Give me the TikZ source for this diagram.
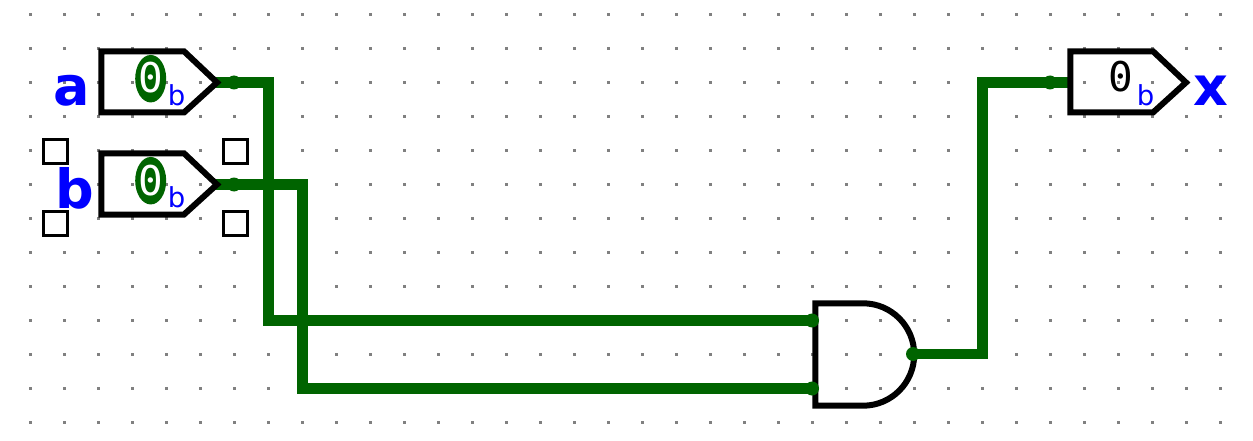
\documentclass[tikz,border=0pt]{standalone}
\usepackage{fontspec}
\setmainfont{DejaVu Sans}
\newfontfamily\monofnt{DejaVu Sans Mono}
\definecolor{wiregreen}{RGB}{0,100,0}
\definecolor{griddot}{RGB}{128,128,128}
\definecolor{labelblue}{RGB}{0,0,255}
\tikzset{
  griddotmark/.style={fill=griddot,draw=none,minimum size=3.2pt,inner sep=0pt,rectangle},
  partline/.style={draw=black,line width=6pt,line join=miter,miter limit=10},
  wire/.style={draw=wiregreen,line width=10.6pt,line join=miter,line cap=butt},
  wiredot/.style={circle,fill=wiregreen,draw=none,minimum size=14pt,inner sep=0pt},
  handlebox/.style={rectangle,draw=black,line width=3pt,fill=white,minimum size=24pt,inner sep=0pt},
  pinname/.style={text=labelblue,font=\fontsize{54}{54}\selectfont\bfseries,anchor=base,inner sep=0pt},
  radix/.style={text=labelblue,font=\fontsize{27.5}{27.5}\selectfont,anchor=base,inner sep=0pt},
  pinvalue/.style={font=\fontsize{41}{41}\selectfont\monofnt,anchor=base,inner sep=0pt},
  highlight/.style={ellipse,fill=wiregreen,draw=none,minimum width=31pt,minimum height=47.5pt,inner sep=0pt},
}
\usetikzlibrary{shapes.geometric}
\begin{document}
\begin{tikzpicture}[x=1pt,y=-1pt]
\useasboundingbox (0,0) rectangle (1253,441);
\fill[white] (0,0) rectangle (1253,441);
% grid
\foreach \i in {0,...,35}{\foreach \j in {0,...,12}{
  \node[griddotmark] (g\i-\j) at ({30.5+34*\i},{14.5+34*\j}) {};
}}
% coordinates
\coordinate (aout) at (234,82.5);
\coordinate (bout) at (234,184.5);
\coordinate (ain) at (812,320.5);
\coordinate (bin) at (812,388.5);
\coordinate (gout) at (913,354);
\coordinate (xin) at (1050,82.5);
\coordinate (astart) at (215,82.5);
\coordinate (bstart) at (215,184.5);
\coordinate (aturn) at (268.5,82.5);
\coordinate (bturn) at (302.5,184.5);
\coordinate (oturn) at (982.5,354);
\coordinate (xend) at (1068,82.5);
% gate
\draw[partline] (863,303.3) -- (815.3,303.3) -- (815.3,405.7) -- (863,405.7) arc[start angle=90,end angle=-90,radius=51.2pt,x radius=51.2pt,y radius=-51.2pt] -- cycle;
% wires
\draw[wire] (astart) -- (aturn) -- (aturn |- ain) -- (ain);
\draw[wire] (bstart) -- (bturn) -- (bturn |- bin) -- (bin);
\draw[wire] (gout) -- (oturn) -- (oturn |- xin) -- (xend);
\node[wiredot] (adot) at (aout) {};
\node[wiredot] (bdot) at (bout) {};
\node[wiredot] (adotin) at (ain) {};
\node[wiredot] (bdotin) at (bin) {};
\node[wiredot] (gdot) at (gout) {};
\node[wiredot] (xdot) at (xin) {};
% pins
\draw[partline] (101.3,51.3) -- (184,51.3) -- (217,82.5) -- (184,112.5) -- (101.3,112.5) -- cycle;
\draw[partline] (101.3,153.3) -- (184,153.3) -- (217,184.5) -- (184,214.5) -- (101.3,214.5) -- cycle;
\draw[partline] (1070.3,51.3) -- (1153,51.3) -- (1186,82.5) -- (1153,112.5) -- (1070.3,112.5) -- cycle;
% pin a contents
\node[highlight] (ha) at (150.7,78.7) {};
\node[pinvalue,text=white] (va) at (150.7,93) {0};
\node[radix] (ra) at (176.5,105.5) {b};
\node[pinname] (la) at (72,106) {a};
% pin b contents
\node[highlight] (hb) at (150.7,180.7) {};
\node[pinvalue,text=white] (vb) at (150.7,195) {0};
\node[radix] (rb) at (176.5,207.5) {b};
\node[pinname] (lb) at (75,208) {b};
% pin x contents
\node[pinvalue] (vx) at (1120.5,91.5) {0};
\node[radix] (rx) at (1145.7,105.5) {b};
\node[pinname] (lx) at (1210.5,106) {x};
% handles
\node[handlebox] (h1) at (55.7,151.3) {};
\node[handlebox] (h2) at (55.7,223.5) {};
\node[handlebox] (h3) at (235.7,151.3) {};
\node[handlebox] (h4) at (235.7,223.5) {};
\end{tikzpicture}
\end{document}
